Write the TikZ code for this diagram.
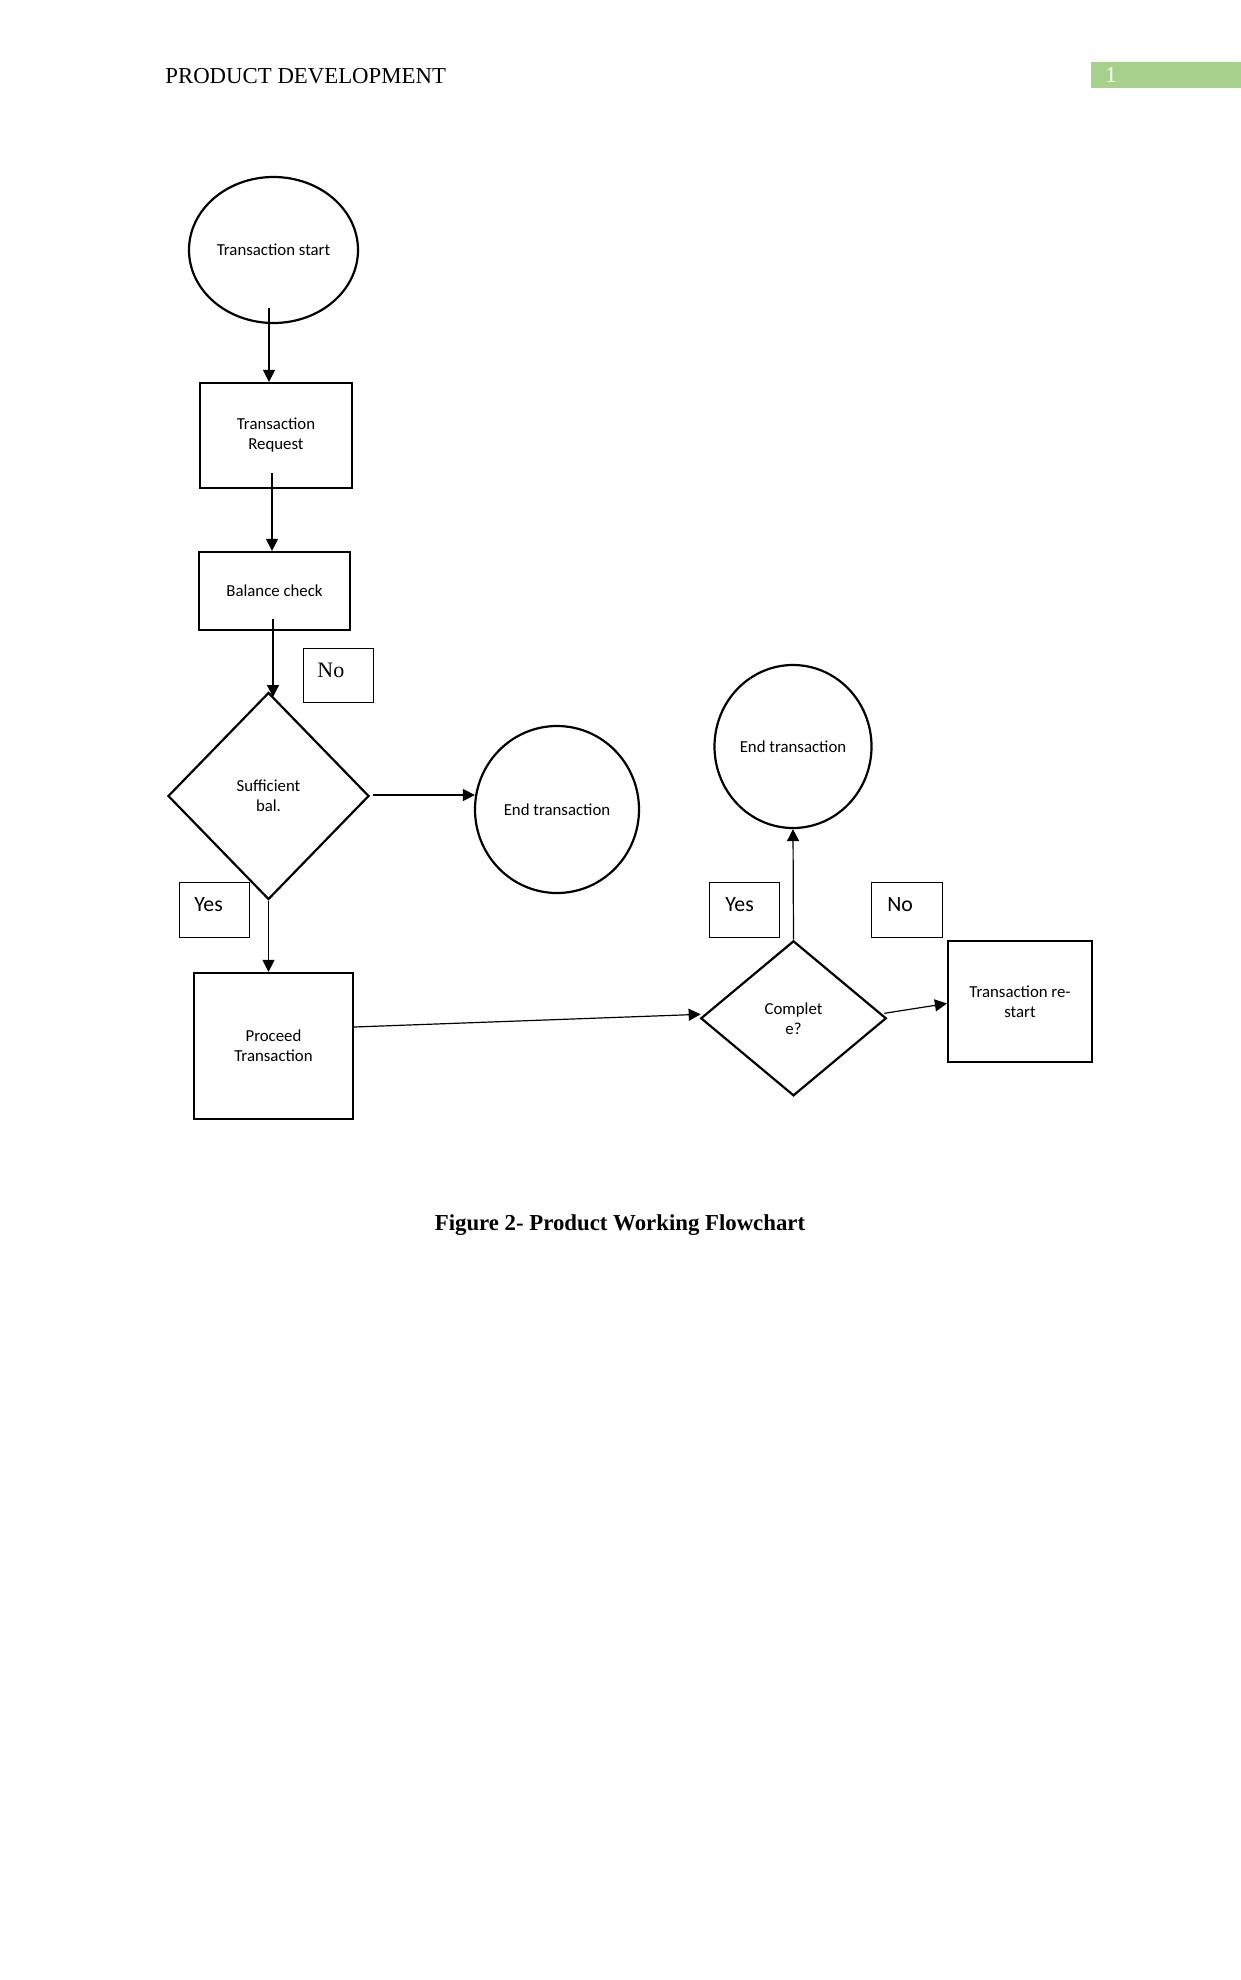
\documentclass[tikz,border=0pt]{standalone}
\usepackage{fontspec}
\setmainfont{Liberation Serif}
\newfontfamily\carl{Carlito}
\usetikzlibrary{shapes.geometric,arrows.meta,calc}
\definecolor{pagegreen}{HTML}{A8D08D}
\begin{document}
\begin{tikzpicture}[x=0.5pt,y=-0.5pt,
  fc/.style={draw, line width=1.1pt, inner sep=0pt, align=center,
    font=\carl\fontsize{8.4}{10}\selectfont},
  ell/.style={fc, ellipse},
  boxn/.style={fc, rectangle},
  dia/.style={fc, diamond},
  lblbox/.style={draw, line width=0.5pt, rectangle, inner sep=0pt},
  lbltxt/.style={anchor=west, inner sep=0pt, font=\carl\fontsize{10.9}{13}\selectfont},
  arr/.style={line width=0.6pt, -{Triangle[length=6pt,width=6pt]}}
]
\useasboundingbox[fill=white] (0,0) rectangle (1241,1980);

% header
\node[anchor=base west, inner sep=0pt, font=\fontsize{11.4}{13}\selectfont] (hdr) at (165,84) {PRODUCT DEVELOPMENT};
\node[fill=pagegreen, anchor=north west, inner sep=0pt, minimum width=75pt, minimum height=13pt] (pg) at (1091,62) {};
\node[anchor=base west, inner sep=0pt, text=white, font=\fontsize{11.4}{13}\selectfont] (pgnum) at (1105,83) {1};

% shapes
\node[ell, minimum width=84.5pt, minimum height=73pt] (start) at (273.5,250) {Transaction start};
\node[boxn, minimum width=76pt, minimum height=52.5pt] (req) at (276,435.5) {Transaction\\Request};
\node[boxn, minimum width=75.5pt, minimum height=39pt] (bal) at (274.5,591) {Balance check};
\node[dia, minimum width=100.5pt, minimum height=103.5pt] (suff) at (268.5,796) {Sufficient\\bal.};
\node[ell, minimum width=82pt, minimum height=83.5pt] (end1) at (557,809.5) {End transaction};
\node[boxn, minimum width=79.5pt, minimum height=73pt] (proc) at (273.5,1046) {Proceed\\Transaction};
\node[dia, minimum width=92.75pt, minimum height=77.5pt] (comp) at (793.5,1018.3) {Complet\\e?};
\node[ell, minimum width=78.5pt, minimum height=81.5pt] (end2) at (793,746.5) {End transaction};
\node[boxn, minimum width=72pt, minimum height=60.5pt] (restart) at (1020,1001.5) {Transaction re-\\start};

% label boxes
\node[lblbox, minimum width=35pt, minimum height=27pt] (noL) at (338,675) {};
\node[lbltxt, font=\fontsize{11}{13}\selectfont] (noLt) at (317,670) {No};
\node[lblbox, minimum width=35pt, minimum height=27.5pt] (yesL) at (214,909.5) {};
\node[lbltxt] (yesLt) at (194,905) {Yes};
\node[lblbox, minimum width=34.75pt, minimum height=27.5pt] (yesR) at (744.3,909.5) {};
\node[lbltxt] (yesRt) at (725,905) {Yes};
\node[lblbox, minimum width=35.5pt, minimum height=27.5pt] (noR) at (906.5,909.5) {};
\node[lbltxt] (noRt) at (887,905) {No};

% connectors
\coordinate (c1) at (269,308);
\draw[arr] (c1) -- (c1 |- req.north);
\coordinate (c2) at (272,473);
\draw[arr] (c2) -- (c2 |- bal.north);
\coordinate (c3) at (273,619);
\coordinate (c3e) at (273,697);
\draw[arr] (c3) -- (c3e);
\draw[arr] ($(suff.east)+(3,-1)$) -- ($(suff.east -| end1.west)+(1,-1)$);
\draw[arr] (suff.south) -- (suff.south |- proc.north);
\draw[arr] ($(proc.east)+(0,-19)$) -- ($(comp.west)+(1,-4)$);
\draw[arr] (comp.north) -- (end2.south);
\draw[arr] ($(comp.east)+(-3,-5)$) -- ($(restart.west)+(0,2)$);

% caption
\node[anchor=base, inner sep=0pt, font=\bfseries\fontsize{11.4}{13}\selectfont] (cap) at (620,1230) {Figure 2- Product Working Flowchart};
\end{tikzpicture}
\end{document}
